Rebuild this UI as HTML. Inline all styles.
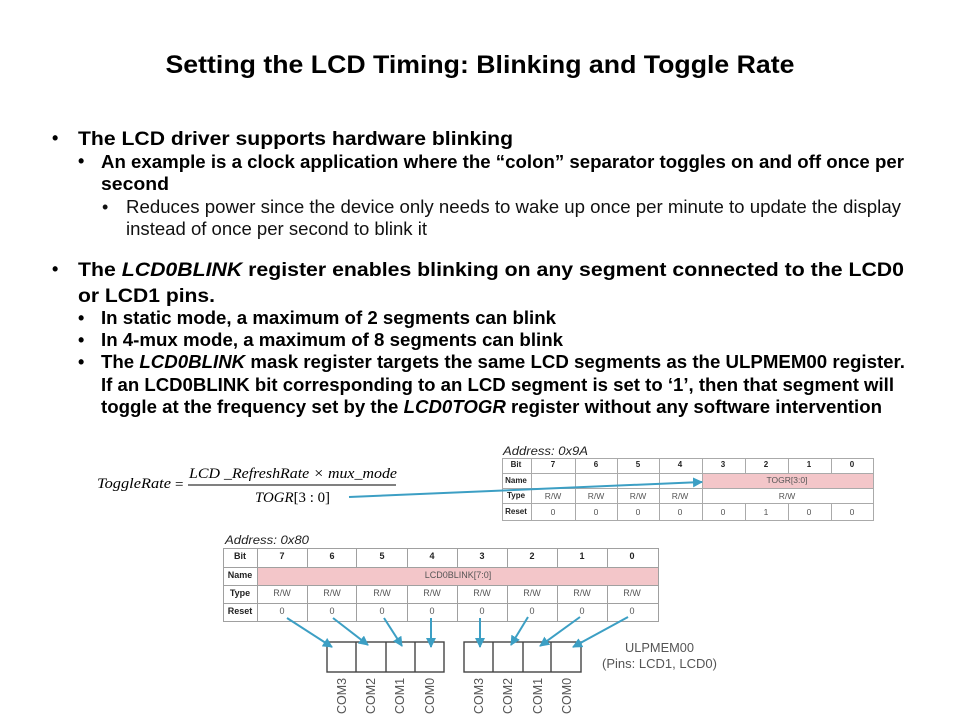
<!DOCTYPE html>
<html><head><meta charset="utf-8"><style>
html,body{margin:0;padding:0;background:#fff}
svg{display:block}
text{font-family:"Liberation Sans",sans-serif;fill:#000}
.b{font-weight:bold;font-size:18px}
.l{font-weight:bold;font-size:19px}
.r{font-size:18px;fill:#111}
.t{font-size:8.5px;fill:#555;text-anchor:middle}
.h{font-size:8px;font-weight:bold;fill:#222;text-anchor:middle}
.t2{font-size:9px;fill:#555;text-anchor:middle}
.h2{font-size:9px;font-weight:bold;fill:#222;text-anchor:middle}
.m{font-family:"Liberation Serif",serif;font-style:italic;font-size:15px}
.a{font-size:12px;font-style:italic;fill:#222}
.c{font-size:13px;fill:#555}
</style></head><body>
<svg width="960" height="720" viewBox="0 0 960 720" xmlns="http://www.w3.org/2000/svg">
<defs>
<marker id="ah" markerUnits="userSpaceOnUse" markerWidth="10" markerHeight="10" refX="9" refY="5" orient="auto"><path d="M0 0L10 5L0 10z" fill="#3c9fc4"/></marker>
</defs>
<text x="480" y="73" text-anchor="middle" font-weight="bold" font-size="25" textLength="629" lengthAdjust="spacingAndGlyphs">Setting the LCD Timing: Blinking and Toggle Rate</text>

<text x="52" y="144" class="b">•</text>
<text x="78" y="145" class="l" textLength="435" lengthAdjust="spacingAndGlyphs">The LCD driver supports hardware blinking</text>
<text x="78" y="167" class="b">•</text>
<text x="101" y="168" class="b" textLength="803" lengthAdjust="spacingAndGlyphs">An example is a clock application where the “colon” separator toggles on and off once per</text>
<text x="101" y="190" class="b" textLength="68" lengthAdjust="spacingAndGlyphs">second</text>
<text x="102" y="213" class="r">•</text>
<text x="126" y="213" class="r" textLength="775" lengthAdjust="spacingAndGlyphs">Reduces power since the device only needs to wake up once per minute to update the display</text>
<text x="126" y="235" class="r" textLength="301" lengthAdjust="spacingAndGlyphs">instead of once per second to blink it</text>

<text x="52" y="275" class="b">•</text>
<text x="78" y="276" class="l" textLength="826" lengthAdjust="spacingAndGlyphs">The <tspan font-style="italic">LCD0BLINK</tspan> register enables blinking on any segment connected to the LCD0</text>
<text x="78" y="302" class="l" textLength="137" lengthAdjust="spacingAndGlyphs">or LCD1 pins.</text>
<text x="78" y="324" class="b">•</text>
<text x="101" y="324" class="b" textLength="455" lengthAdjust="spacingAndGlyphs">In static mode, a maximum of 2 segments can blink</text>
<text x="78" y="346" class="b">•</text>
<text x="101" y="346" class="b" textLength="462" lengthAdjust="spacingAndGlyphs">In 4-mux mode, a maximum of 8 segments can blink</text>
<text x="78" y="368" class="b">•</text>
<text x="101" y="368" class="b" textLength="804" lengthAdjust="spacingAndGlyphs">The <tspan font-style="italic">LCD0BLINK</tspan> mask register targets the same LCD segments as the ULPMEM00 register.</text>
<text x="101" y="391" class="b" textLength="793" lengthAdjust="spacingAndGlyphs">If an LCD0BLINK bit corresponding to an LCD segment is set to ‘1’, then that segment will</text>
<text x="101" y="413" class="b" textLength="781" lengthAdjust="spacingAndGlyphs">toggle at the frequency set by the <tspan font-style="italic">LCD0TOGR</tspan> register without any software intervention</text>

<!-- equation -->
<text x="97" y="488" class="m" textLength="74" lengthAdjust="spacingAndGlyphs">ToggleRate</text>
<text x="175" y="489" font-size="15" style="font-family:'Liberation Serif',serif">=</text>
<text x="189" y="478" class="m" textLength="208" lengthAdjust="spacingAndGlyphs">LCD _RefreshRate × mux_mode</text>
<line x1="188" y1="485" x2="396" y2="485" stroke="#000" stroke-width="1"/>
<text x="255" y="502" class="m" textLength="75" lengthAdjust="spacingAndGlyphs">TOGR<tspan font-style="normal">[3 : 0]</tspan></text>

<!-- table 1 -->
<text x="503" y="455" class="a" textLength="85" lengthAdjust="spacingAndGlyphs">Address: 0x9A</text>
<rect x="702" y="473" width="171" height="15" fill="#f3c6c9"/>
<g fill="none" stroke="#aaa" stroke-width="1">
<rect x="502.5" y="458.5" width="371" height="62"/>
<path d="M502 473.5H873M502 488.5H873M502 503.5H873"/>
<path d="M531.5 458V521M575.5 458V521M617.5 458V521M659.5 458V521M702.5 458V521M745.5 458V473M745.5 503V521M788.5 458V473M788.5 503V521M831.5 458V473M831.5 503V521"/>
</g>
<text x="516" y="467" class="h">Bit</text><text x="553" y="467" class="h">7</text><text x="596" y="467" class="h">6</text><text x="638" y="467" class="h">5</text><text x="680" y="467" class="h">4</text><text x="723" y="467" class="h">3</text><text x="766" y="467" class="h">2</text><text x="809" y="467" class="h">1</text><text x="852" y="467" class="h">0</text>
<text x="516" y="483" class="h">Name</text><text x="516" y="498" class="h">Type</text><text x="516" y="514" class="h">Reset</text>
<text x="787" y="483" class="t">TOGR[3:0]</text>
<text x="553" y="499" class="t">R/W</text><text x="596" y="499" class="t">R/W</text><text x="638" y="499" class="t">R/W</text><text x="680" y="499" class="t">R/W</text><text x="787" y="499" class="t">R/W</text>
<text x="553" y="515" class="t">0</text><text x="596" y="515" class="t">0</text><text x="638" y="515" class="t">0</text><text x="680" y="515" class="t">0</text><text x="723" y="515" class="t">0</text><text x="766" y="515" class="t">1</text><text x="809" y="515" class="t">0</text><text x="852" y="515" class="t">0</text>

<!-- table 2 -->
<text x="225" y="544" class="a" textLength="84" lengthAdjust="spacingAndGlyphs">Address: 0x80</text>
<rect x="257" y="567" width="401" height="18" fill="#f3c6c9"/>
<g fill="none" stroke="#a0a0a0" stroke-width="1">
<rect x="223.5" y="548.5" width="435" height="73"/>
<path d="M223 567.5H658M223 585.5H658M223 603.5H658"/>
<path d="M257.5 548V622M307.5 548V567M307.5 585V622M356.5 548V567M356.5 585V622M407.5 548V567M407.5 585V622M457.5 548V567M457.5 585V622M507.5 548V567M507.5 585V622M557.5 548V567M557.5 585V622M607.5 548V567M607.5 585V622"/>
</g>
<text x="240" y="559" class="h2">Bit</text><text x="282" y="559" class="h2">7</text><text x="332" y="559" class="h2">6</text><text x="382" y="559" class="h2">5</text><text x="432" y="559" class="h2">4</text><text x="482" y="559" class="h2">3</text><text x="532" y="559" class="h2">2</text><text x="582" y="559" class="h2">1</text><text x="632" y="559" class="h2">0</text>
<text x="240" y="578" class="h2">Name</text><text x="240" y="596" class="h2">Type</text><text x="240" y="614" class="h2">Reset</text>
<text x="458" y="578" class="t2">LCD0BLINK[7:0]</text>
<text x="282" y="596" class="t2">R/W</text><text x="332" y="596" class="t2">R/W</text><text x="382" y="596" class="t2">R/W</text><text x="432" y="596" class="t2">R/W</text><text x="482" y="596" class="t2">R/W</text><text x="532" y="596" class="t2">R/W</text><text x="582" y="596" class="t2">R/W</text><text x="632" y="596" class="t2">R/W</text>
<text x="282" y="614" class="t2">0</text><text x="332" y="614" class="t2">0</text><text x="382" y="614" class="t2">0</text><text x="432" y="614" class="t2">0</text><text x="482" y="614" class="t2">0</text><text x="532" y="614" class="t2">0</text><text x="582" y="614" class="t2">0</text><text x="632" y="614" class="t2">0</text>

<!-- segment boxes -->
<g fill="none" stroke="#444" stroke-width="1.4">
<rect x="327" y="642" width="117" height="30"/>
<path d="M356 642V672M386 642V672M415 642V672"/>
<rect x="464" y="642" width="117" height="30"/>
<path d="M493 642V672M523 642V672M551 642V672"/>
</g>
<text transform="translate(346,714) rotate(-90)" class="c" textLength="36" lengthAdjust="spacingAndGlyphs">COM3</text>
<text transform="translate(375,714) rotate(-90)" class="c" textLength="36" lengthAdjust="spacingAndGlyphs">COM2</text>
<text transform="translate(404,714) rotate(-90)" class="c" textLength="36" lengthAdjust="spacingAndGlyphs">COM1</text>
<text transform="translate(434,714) rotate(-90)" class="c" textLength="36" lengthAdjust="spacingAndGlyphs">COM0</text>
<text transform="translate(483,714) rotate(-90)" class="c" textLength="36" lengthAdjust="spacingAndGlyphs">COM3</text>
<text transform="translate(512,714) rotate(-90)" class="c" textLength="36" lengthAdjust="spacingAndGlyphs">COM2</text>
<text transform="translate(542,714) rotate(-90)" class="c" textLength="36" lengthAdjust="spacingAndGlyphs">COM1</text>
<text transform="translate(571,714) rotate(-90)" class="c" textLength="36" lengthAdjust="spacingAndGlyphs">COM0</text>
<text x="625" y="652" class="c" textLength="69" lengthAdjust="spacingAndGlyphs">ULPMEM00</text>
<text x="602" y="668" class="c" textLength="115" lengthAdjust="spacingAndGlyphs">(Pins: LCD1, LCD0)</text>

<!-- arrows -->
<g stroke="#3c9fc4" stroke-width="2" fill="none">
<line x1="349" y1="497" x2="702" y2="482" marker-end="url(#ah)"/>
<line x1="287" y1="618" x2="332" y2="647" marker-end="url(#ah)"/>
<line x1="333" y1="618" x2="368" y2="645" marker-end="url(#ah)"/>
<line x1="384" y1="618" x2="402" y2="646" marker-end="url(#ah)"/>
<line x1="431" y1="618" x2="431" y2="647" marker-end="url(#ah)"/>
<line x1="480" y1="618" x2="480" y2="647" marker-end="url(#ah)"/>
<line x1="528" y1="617" x2="511" y2="645" marker-end="url(#ah)"/>
<line x1="580" y1="617" x2="540" y2="646" marker-end="url(#ah)"/>
<line x1="628" y1="617" x2="573" y2="647" marker-end="url(#ah)"/>
</g>
</svg>
</body></html>
